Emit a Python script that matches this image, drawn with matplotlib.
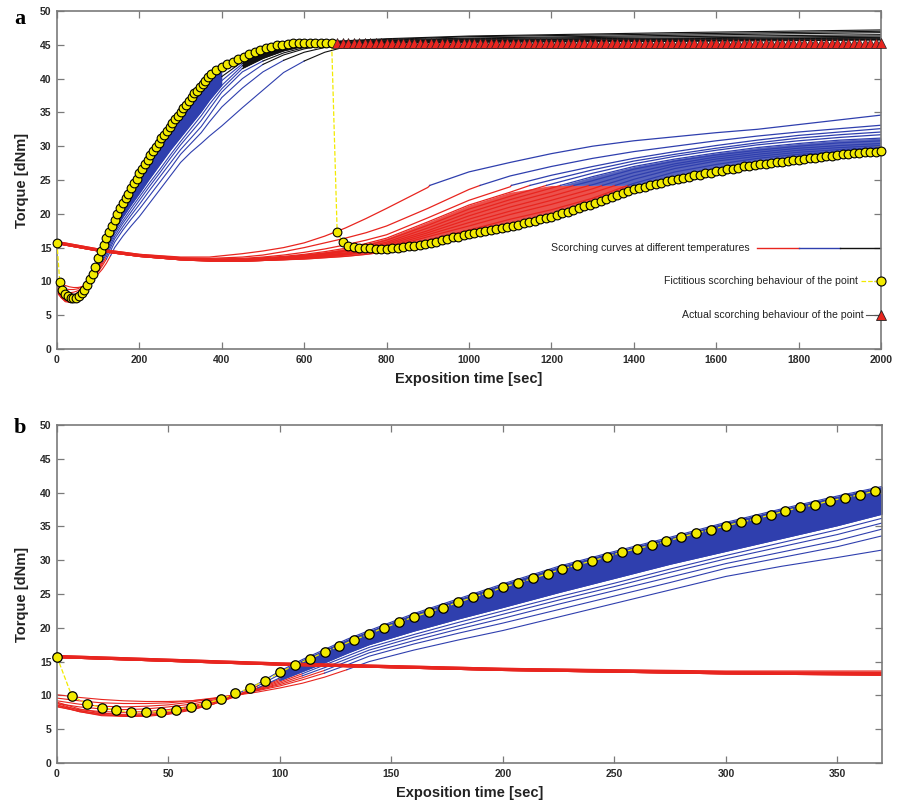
import numpy as np
import matplotlib.pyplot as plt

plt.rcParams['font.family'] = ['Liberation Sans', 'DejaVu Sans']

RED = '#e8251f'
BLUE = '#2f3fae'
BLACK = '#111111'
YEL = '#f2ea00'

# ---- scorching curves, high temperatures (fast cure) ----
tf = [0, 10, 20, 30, 40, 50, 60, 70, 80, 90, 100, 110, 120, 130,
      140, 160, 180, 200, 225, 250, 275, 300, 325, 350, 370, 400,
      450, 500, 550, 600, 650, 700, 800, 1000, 1500, 2000]

fast_0 = [9.0, 8.0, 7.4, 7.1, 7.1, 7.4, 8.0, 8.9, 10.1, 11.7, 13.6, 15.3, 16.8, 18.3,
          19.6, 22.1, 24.3, 26.5, 29.1, 31.3, 33.4, 35.6, 37.6, 39.5, 40.9, 41.8,
          43.3, 44.4, 45.0, 45.3, 45.5, 45.6, 45.9, 46.3, 46.8, 47.2]
fast_1 = [8.8, 7.8, 7.2, 6.9, 6.9, 7.2, 7.8, 8.7, 9.9, 11.4, 13.1, 14.8, 16.2, 17.7,
          19.1, 21.6, 23.8, 26.0, 28.6, 30.8, 32.9, 35.0, 37.1, 38.9, 40.3, 41.2,
          43.0, 44.1, 44.8, 45.2, 45.4, 45.5, 45.8, 46.2, 46.6, 47.0]
fast_2 = [8.6, 7.6, 7.0, 6.9, 7.0, 7.3, 7.9, 8.7, 9.8, 11.1, 12.6, 14.1, 15.5, 16.9,
          18.3, 20.6, 22.6, 24.6, 27.0, 29.2, 31.3, 33.3, 35.2, 37.0, 38.6, 40.3,
          42.5, 43.8, 44.6, 45.1, 45.3, 45.4, 45.7, 46.0, 46.4, 46.8]
fast_3 = [8.4, 7.6, 7.1, 7.0, 7.1, 7.5, 8.1, 8.9, 9.9, 11.1, 12.4, 13.8, 15.2, 16.5,
          17.9, 20.1, 22.0, 23.9, 26.2, 28.4, 30.5, 32.5, 34.4, 36.2, 37.8, 39.7,
          42.2, 43.6, 44.5, 45.0, 45.2, 45.3, 45.6, 45.9, 46.2, 46.5]
fast_4 = [8.3, 7.7, 7.3, 7.2, 7.3, 7.7, 8.3, 9.0, 9.9, 11.0, 12.2, 13.5, 14.8, 16.2,
          17.5, 19.5, 21.3, 23.0, 25.2, 27.3, 29.4, 31.3, 33.2, 35.1, 36.8, 39.0,
          41.9, 43.3, 44.3, 44.9, 45.2, 45.3, 45.5, 45.8, 46.0, 46.3]
fast_5 = [8.5, 7.9, 7.6, 7.5, 7.6, 7.9, 8.4, 9.1, 9.9, 10.9, 12.0, 13.2, 14.5, 15.8,
          17.1, 19.0, 20.8, 22.5, 24.6, 26.6, 28.7, 30.7, 32.6, 34.5, 36.2, 38.5,
          41.5, 43.0, 44.1, 44.8, 45.1, 45.2, 45.4, 45.7, 45.9, 46.1]
fast_6 = [8.8, 8.3, 8.0, 7.9, 8.0, 8.3, 8.7, 9.3, 10.0, 10.8, 11.8, 12.9, 14.1, 15.4,
          16.7, 18.6, 20.3, 22.0, 24.1, 26.1, 28.2, 30.2, 32.0, 33.8, 35.5, 38.0,
          41.0, 42.6, 43.8, 44.6, 45.0, 45.2, 45.4, 45.6, 45.8, 46.0]
fast_7 = [9.2, 8.7, 8.4, 8.3, 8.4, 8.6, 9.0, 9.5, 10.1, 10.8, 11.6, 12.6, 13.7, 15.0,
          16.3, 18.1, 19.8, 21.4, 23.5, 25.5, 27.5, 29.5, 31.2, 32.9, 34.6, 37.2,
          40.0, 42.1, 43.5, 44.4, 44.9, 45.1, 45.3, 45.5, 45.7, 45.9]
fast_8 = [9.6, 9.2, 8.9, 8.8, 8.8, 8.9, 9.2, 9.6, 10.1, 10.7, 11.4, 12.3, 13.3, 14.5,
          15.8, 17.6, 19.2, 20.7, 22.7, 24.7, 26.7, 28.8, 30.4, 32.0, 33.6, 35.8,
          38.6, 41.0, 42.7, 43.9, 44.6, 45.0, 45.3, 45.4, 45.6, 45.8]
fast_9 = [10.1, 9.7, 9.4, 9.2, 9.1, 9.1, 9.2, 9.5, 10.0, 10.5, 11.1, 11.8, 12.7, 13.8,
          15.0, 16.7, 18.2, 19.6, 21.6, 23.6, 25.6, 27.6, 29.1, 30.4, 31.5, 33.0,
          35.7, 38.3, 40.9, 42.6, 43.9, 44.7, 45.3, 45.4, 45.5, 45.7]
fast_vals = [fast_0, fast_1, fast_2, fast_3, fast_4,
             fast_5, fast_6, fast_7, fast_8, fast_9]
# index in tf where each curve goes red -> blue and blue -> black
fast_breaks = [(8, 24), (9, 25), (9, 25), (10, 26), (10, 26),
               (11, 26), (11, 27), (12, 27), (12, 28), (13, 29)]

# ---- scorching curves, low temperatures (slow cure) ----
ts = [0, 100, 200, 300, 370, 450, 500, 550, 600, 650, 700, 750, 800,
      900, 1000, 1100, 1200, 1300, 1400, 1500, 1600, 1700, 1800, 1900, 2000]

slow_0 = [15.9, 14.8, 14.0, 13.6, 13.6, 14.1, 14.5, 15.0, 15.7, 16.7, 17.9, 19.3, 20.8,
          23.9, 26.2, 27.6, 28.9, 30.0, 30.8, 31.4, 32.0, 32.5, 33.2, 33.9, 34.6]
slow_1 = [15.9, 14.8, 14.0, 13.5, 13.4, 13.6, 13.9, 14.4, 15.0, 15.7, 16.4, 17.2, 18.2,
          20.8, 23.6, 25.6, 27.0, 28.2, 29.2, 30.0, 30.8, 31.5, 32.1, 32.6, 33.1]
slow_2 = [15.8, 14.7, 13.9, 13.4, 13.3, 13.4, 13.6, 13.9, 14.3, 14.8, 15.4, 16.1, 16.9,
          19.4, 22.0, 24.0, 25.7, 27.0, 28.2, 29.2, 30.1, 30.9, 31.6, 32.1, 32.6]
slow_3 = [15.8, 14.7, 13.9, 13.4, 13.3, 13.3, 13.5, 13.7, 14.0, 14.4, 14.9, 15.6, 16.4,
          18.8, 21.3, 23.2, 25.0, 26.5, 27.8, 28.8, 29.7, 30.5, 31.2, 31.7, 32.1]
slow_4 = [15.7, 14.6, 13.8, 13.3, 13.2, 13.2, 13.4, 13.6, 13.9, 14.2, 14.6, 15.3, 16.1,
          18.3, 20.7, 22.6, 24.4, 26.0, 27.4, 28.5, 29.4, 30.2, 30.8, 31.3, 31.7]
slow_5 = [15.7, 14.6, 13.8, 13.3, 13.2, 13.2, 13.3, 13.5, 13.8, 14.1, 14.5, 15.1, 15.8,
          17.9, 20.2, 22.1, 23.8, 25.5, 27.0, 28.1, 29.0, 29.8, 30.4, 30.9, 31.2]
slow_6 = [15.7, 14.6, 13.8, 13.3, 13.1, 13.1, 13.3, 13.5, 13.7, 14.0, 14.4, 14.9, 15.6,
          17.5, 19.7, 21.6, 23.2, 24.9, 26.6, 27.8, 28.7, 29.4, 30.0, 30.5, 30.8]
slow_7 = [15.6, 14.5, 13.7, 13.2, 13.1, 13.1, 13.2, 13.4, 13.6, 13.9, 14.2, 14.7, 15.4,
          17.2, 19.2, 21.0, 22.6, 24.3, 26.1, 27.4, 28.4, 29.1, 29.7, 30.1, 30.4]
slow_8 = [15.6, 14.5, 13.7, 13.2, 13.1, 13.0, 13.1, 13.3, 13.5, 13.8, 14.1, 14.6, 15.2,
          16.9, 18.7, 20.4, 22.0, 23.7, 25.6, 27.1, 28.1, 28.8, 29.4, 29.8, 30.1]
slow_9 = [15.6, 14.5, 13.7, 13.2, 13.0, 13.0, 13.1, 13.3, 13.5, 13.7, 14.0, 14.4, 15.0,
          16.6, 18.2, 19.9, 21.4, 23.1, 25.1, 26.7, 27.8, 28.5, 29.1, 29.5, 29.8]
slow_10 = [15.6, 14.5, 13.7, 13.2, 13.0, 13.0, 13.1, 13.2, 13.4, 13.6, 13.9, 14.3, 14.9,
           16.1, 17.6, 19.2, 20.6, 22.3, 24.5, 26.2, 27.3, 28.2, 28.8, 29.2, 29.5]
slow_11 = [15.6, 14.5, 13.7, 13.2, 13.0, 13.0, 13.1, 13.2, 13.3, 13.5, 13.7, 14.0, 14.4,
           15.5, 16.9, 18.2, 19.5, 21.4, 23.5, 25.0, 26.2, 27.2, 28.0, 28.7, 29.2]
slow_vals = [slow_0, slow_1, slow_2, slow_3, slow_4, slow_5,
             slow_6, slow_7, slow_8, slow_9, slow_10, slow_11]
# time where each slow curve turns from red to blue, and the torque there
slow_cross = [905, 1027, 1103, 1148, 1188, 1222, 1255, 1292, 1324, 1355, 1386, 1445]
cross_level = 24.2

# ---- fictitious scorching behaviour of the point (yellow circles) ----
yel_early = [15.7, 9.9, 8.8, 8.2, 7.8, 7.5, 7.5, 7.6, 7.9, 8.3, 8.8, 9.4, 10.3, 11.1,
             12.2, 13.4, 14.5, 15.4, 16.4, 17.3, 18.2, 19.1, 20.0, 20.8, 21.6, 22.3,
             23.0, 23.8, 24.5, 25.2, 26.0, 26.6, 27.3, 28.0, 28.7, 29.3, 29.9, 30.5,
             31.2, 31.7, 32.2, 32.8, 33.4, 34.0, 34.5, 35.1, 35.6, 36.1, 36.7, 37.3,
             37.8, 38.2, 38.8, 39.2, 39.7, 40.2]          # every 20/3 s from 0
yel_high = [40.7, 41.3, 41.7, 42.1, 42.5, 42.9, 43.2, 43.6, 43.9, 44.2, 44.5, 44.7,
            44.9, 45.0, 45.1, 45.2, 45.2, 45.3, 45.3, 45.3, 45.3, 45.3, 45.2]  # every 40/3 s
yel_low = [17.3, 15.8, 15.3, 15.1, 15.0, 14.9, 14.9, 14.8, 14.8, 14.8,
           14.9, 15.0, 15.1, 15.2, 15.3, 15.4, 15.6, 15.7, 15.9, 16.1,
           16.3, 16.5, 16.6, 16.8, 17.0, 17.1, 17.3, 17.5, 17.6, 17.8,
           17.9, 18.1, 18.2, 18.4, 18.6, 18.8, 19.0, 19.2, 19.4, 19.6,
           19.8, 20.1, 20.3, 20.6, 20.8, 21.1, 21.3, 21.6, 21.9, 22.2,
           22.5, 22.8, 23.1, 23.4, 23.6, 23.8, 24.0, 24.2, 24.4, 24.6,
           24.8, 25.0, 25.1, 25.3, 25.5, 25.7, 25.8, 26.0, 26.1, 26.3,
           26.4, 26.6, 26.7, 26.8, 27.0, 27.1, 27.2, 27.3, 27.4, 27.5,
           27.6, 27.7, 27.8, 27.9, 28.0, 28.1, 28.2, 28.3, 28.4, 28.5,
           28.6, 28.7, 28.8, 28.9, 29.0, 29.0, 29.1, 29.2, 29.2, 29.3]  # every 40/3 s from 680
actual_level = 45.3   # actual scorching behaviour (red triangles), from 680 s on

t_early = np.arange(len(yel_early)) * 20 / 3
t_high = t_early[-1] + 20 / 3 + np.arange(len(yel_high)) * 40 / 3
t_low = 680 + np.arange(len(yel_low)) * 40 / 3
yel_t = np.concatenate([t_early, t_high, t_low])
yel_v = np.concatenate([yel_early, yel_high, yel_low])


def draw_curves(ax):
    t = np.array(tf)
    s = np.array(ts)
    f0, f4, f5 = np.array(fast_0), np.array(fast_4), np.array(fast_5)
    s3, s5, s11 = np.array(slow_3), np.array(slow_5), np.array(slow_11)
    for vals, (r, b) in zip(fast_vals, fast_breaks):
        v = np.array(vals)
        ax.plot(t[:r + 1], v[:r + 1], color=RED, lw=0.8)
    # the many close curves of the fast group form solid bands
    ax.fill_between(t[10:26], f4[10:26], f0[10:26], color=BLUE, lw=0)
    ax.fill_between(t[26:32], f5[26:32], f0[26:32], color=BLACK, lw=0)
    for vals, (r, b) in zip(fast_vals, fast_breaks):
        v = np.array(vals)
        ax.plot(t[r:b + 1], v[r:b + 1], color=BLUE, lw=0.8)
        ax.plot(t[b:], v[b:], color=BLACK, lw=0.8)
    # dense parts of the slow group
    ax.fill_between(s[5:19], s11[5:19], np.minimum(s3[5:19], cross_level),
                    color=RED, alpha=0.8, lw=0)
    low = np.maximum(s11[15:], cross_level)
    ax.fill_between(s[15:], low, s5[15:], where=s5[15:] >= low, interpolate=True,
                    color=BLUE, alpha=0.8, lw=0)
    for vals, tc in zip(slow_vals, slow_cross):
        k = int(np.searchsorted(ts, tc))
        ax.plot(ts[:k] + [tc], vals[:k] + [cross_level], color=RED, lw=0.9)
        ax.plot([tc] + ts[k:], [cross_level] + vals[k:], color=BLUE, lw=0.9)


def style_axes(ax, xmax, xticks):
    ax.set_xlim(0, xmax)
    ax.set_ylim(0, 50)
    ax.set_xticks(xticks)
    ax.set_yticks(np.arange(0, 51, 5))
    ax.tick_params(direction='in', length=5, width=0.9, color='#7a7a7a',
                   top=True, right=True, labelsize=7.5, labelcolor='#2a2a2a', pad=4)
    for lab in ax.get_xticklabels() + ax.get_yticklabels():
        lab.set_fontweight('bold')
    for sp in ax.spines.values():
        sp.set_color('#7a7a7a')
        sp.set_linewidth(1.2)
    ax.set_xlabel('Exposition time [sec]', fontsize=10.5, fontweight='bold',
                  color='#222222', labelpad=5)
    ax.set_ylabel('Torque [dNm]', fontsize=10.5, fontweight='bold',
                  color='#222222', labelpad=8)


fig = plt.figure(figsize=(8.98, 8.09), dpi=100)
ax_a = fig.add_axes([57 / 898, 1 - 349 / 809, 824 / 898, 338 / 809])
ax_b = fig.add_axes([57 / 898, 1 - 763 / 809, 825 / 898, 338 / 809])

# panel a
draw_curves(ax_a)
ax_a.plot(yel_t, yel_v, '--', color=YEL, lw=0.9, zorder=5)
ax_a.plot(yel_t, yel_v, 'o', mfc=YEL, mec='k', ms=6.3, mew=0.8, zorder=6, clip_on=False)
ax_a.plot(t_low, np.full(len(t_low), actual_level), '^', mfc=RED, mec='#222222',
          ms=6.8, mew=0.5, zorder=7, clip_on=False)
style_axes(ax_a, 2000, np.arange(0, 2001, 200))

# legend drawn inside panel a, key to the right of the text
tr = ax_a.transAxes
ax_a.text(0.84, 0.30, 'Scorching curves at different temperatures', transform=tr,
          ha='right', va='center', fontsize=7.6, color='#222222')
ax_a.plot([0.85, 0.90], [0.30, 0.30], color=RED, lw=1, transform=tr)
ax_a.plot([0.90, 0.95], [0.30, 0.30], color=BLUE, lw=1, transform=tr)
ax_a.plot([0.95, 1.00], [0.30, 0.30], color=BLACK, lw=1, transform=tr)
ax_a.text(0.972, 0.20, 'Fictitious scorching behaviour of the point', transform=tr,
          ha='right', va='center', fontsize=7.6, color='#222222')
ax_a.plot([0.976, 1.0], [0.20, 0.20], '--', color=YEL, lw=0.9, transform=tr)
ax_a.plot([1.0], [0.20], 'o', mfc=YEL, mec='k', ms=6.5, mew=0.8, transform=tr,
          clip_on=False, zorder=8)
ax_a.text(0.979, 0.10, 'Actual scorching behaviour of the point', transform=tr,
          ha='right', va='center', fontsize=7.6, color='#222222')
ax_a.plot([0.982, 1.0], [0.10, 0.10], color='#555555', lw=0.8, transform=tr)
ax_a.plot([1.0], [0.10], '^', mfc=RED, mec='#222222', ms=7, mew=0.6, transform=tr,
          clip_on=False, zorder=8)

# panel b: zoom on the first 370 s
draw_curves(ax_b)
inb = yel_t <= 370
ax_b.plot(yel_t[inb], yel_v[inb], '--', color=YEL, lw=0.9, zorder=5)
ax_b.plot(yel_t[inb], yel_v[inb], 'o', mfc=YEL, mec='k', ms=6.8, mew=0.9, zorder=6,
          clip_on=False)
style_axes(ax_b, 370, np.arange(0, 351, 50))

fig.text(14 / 898, 1 - 24 / 809, 'a', fontsize=16, fontweight='bold',
         family='Liberation Serif', va='baseline')
fig.text(14 / 898, 1 - 433 / 809, 'b', fontsize=16, fontweight='bold',
         family='Liberation Serif', va='baseline')

fig.savefig('out.png', dpi=100)
